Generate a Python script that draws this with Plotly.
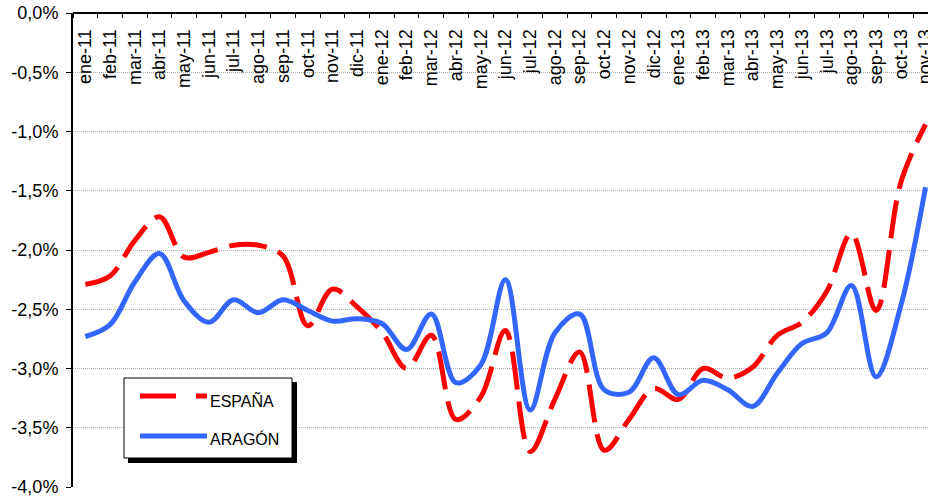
import plotly.graph_objects as go

months = ["ene-11", "feb-11", "mar-11", "abr-11", "may-11", "jun-11", "jul-11", "ago-11",
          "sep-11", "oct-11", "nov-11", "dic-11", "ene-12", "feb-12", "mar-12", "abr-12",
          "may-12", "jun-12", "jul-12", "ago-12", "sep-12", "oct-12", "nov-12", "dic-12",
          "ene-13", "feb-13", "mar-13", "abr-13", "may-13", "jun-13", "jul-13", "ago-13",
          "sep-13", "oct-13", "nov-13"]

espana = [-2.29, -2.22, -1.92, -1.72, -2.06, -2.02, -1.96, -1.96, -2.05, -2.64,
          -2.33, -2.48, -2.69, -3.00, -2.72, -3.43, -3.24, -2.68, -3.70, -3.26,
          -2.86, -3.69, -3.43, -3.17, -3.26, -3.00, -3.08, -2.99, -2.72, -2.61,
          -2.35, -1.86, -2.51, -1.43, -0.94]

aragon = [-2.73, -2.63, -2.27, -2.03, -2.43, -2.61, -2.42, -2.53, -2.42, -2.51,
          -2.60, -2.58, -2.62, -2.84, -2.54, -3.12, -2.97, -2.25, -3.35, -2.70,
          -2.54, -3.18, -3.20, -2.91, -3.22, -3.10, -3.18, -3.32, -3.04, -2.79,
          -2.70, -2.30, -3.07, -2.47, -1.47]

y_ticks = [0.0, -0.5, -1.0, -1.5, -2.0, -2.5, -3.0, -3.5, -4.0]
y_tick_labels = ["0,0%", "-0,5%", "-1,0%", "-1,5%", "-2,0%", "-2,5%", "-3,0%", "-3,5%", "-4,0%"]

RED = "#FF0000"
BLUE = "#3366FF"
FONT = "Liberation Sans, Arial, sans-serif"

W, H = 928, 497
L, T, B = 73, 13, 10
PW = W - L
PH = H - T - B

def px(x):
    return (x - L) / PW

def py(y):
    return (H - B - y) / PH

fig = go.Figure()
fig.add_trace(go.Scatter(x=months, y=espana, mode="lines", name="ESPAÑA",
                         line=dict(color=RED, width=5, dash="38px,12px",
                                   shape="spline", smoothing=1.0),
                         showlegend=False))
fig.add_trace(go.Scatter(x=months, y=aragon, mode="lines", name="ARAGÓN",
                         line=dict(color=BLUE, width=5, shape="spline", smoothing=1.0),
                         showlegend=False))

# legend box (drawn manually to match the reference)
shapes = [
    dict(type="rect", xref="paper", yref="paper", x0=px(128), x1=px(297), y0=py(463), y1=py(382),
         fillcolor="black", line=dict(width=0), layer="above"),
    dict(type="rect", xref="paper", yref="paper", x0=px(124), x1=px(292), y0=py(458), y1=py(378),
         fillcolor="white", line=dict(color="black", width=1), layer="above"),
    dict(type="line", xref="paper", yref="paper", x0=px(140), x1=px(207), y0=py(396), y1=py(396),
         line=dict(color=RED, width=5, dash="36px,20px"), layer="above"),
    dict(type="line", xref="paper", yref="paper", x0=px(140), x1=px(207), y0=py(436), y1=py(436),
         line=dict(color=BLUE, width=5), layer="above"),
]
annotations = [
    dict(xref="paper", yref="paper", x=px(208), y=py(400), text="ESPAÑA", showarrow=False,
         xanchor="left", yanchor="middle", font=dict(family=FONT, size=16, color="black")),
    dict(xref="paper", yref="paper", x=px(208), y=py(439), text="ARAGÓN", showarrow=False,
         xanchor="left", yanchor="middle", font=dict(family=FONT, size=16, color="black")),
]

fig.update_layout(
    width=W, height=H,
    margin=dict(l=L, r=0, t=T, b=B, pad=0, autoexpand=False),
    paper_bgcolor="white", plot_bgcolor="white",
    font=dict(family=FONT, size=18, color="black"),
    shapes=shapes, annotations=annotations,
    showlegend=False,
)
fig.update_xaxes(
    type="category", side="bottom", anchor="free", position=1.0,
    categoryorder="array", categoryarray=months,
    range=[-0.5, 34.1], automargin=False,
    tickangle=-90, tickson="boundaries",
    ticks="outside", ticklen=4, tickwidth=1, tickcolor="black",
    ticklabelstandoff=8, ticklabeloverflow="allow",
    tickfont=dict(family=FONT, size=18, color="black"),
    showline=True, linecolor="black", linewidth=2,
    showgrid=False, zeroline=False,
)
fig.update_yaxes(
    range=[-4.0, 0.0], tickvals=y_ticks, ticktext=y_tick_labels, automargin=False,
    ticks="outside", ticklen=5, tickwidth=1, tickcolor="black",
    ticklabelstandoff=4, ticklabeloverflow="allow",
    tickfont=dict(family=FONT, size=18, color="black"),
    showline=True, linecolor="black", linewidth=2,
    showgrid=True, gridcolor="#B0B0B0", gridwidth=1, griddash="1px,1px",
    zeroline=False,
)

fig.write_html("out.html", config={"displayModeBar": False},
               post_script="document.body.style.margin='0';")
